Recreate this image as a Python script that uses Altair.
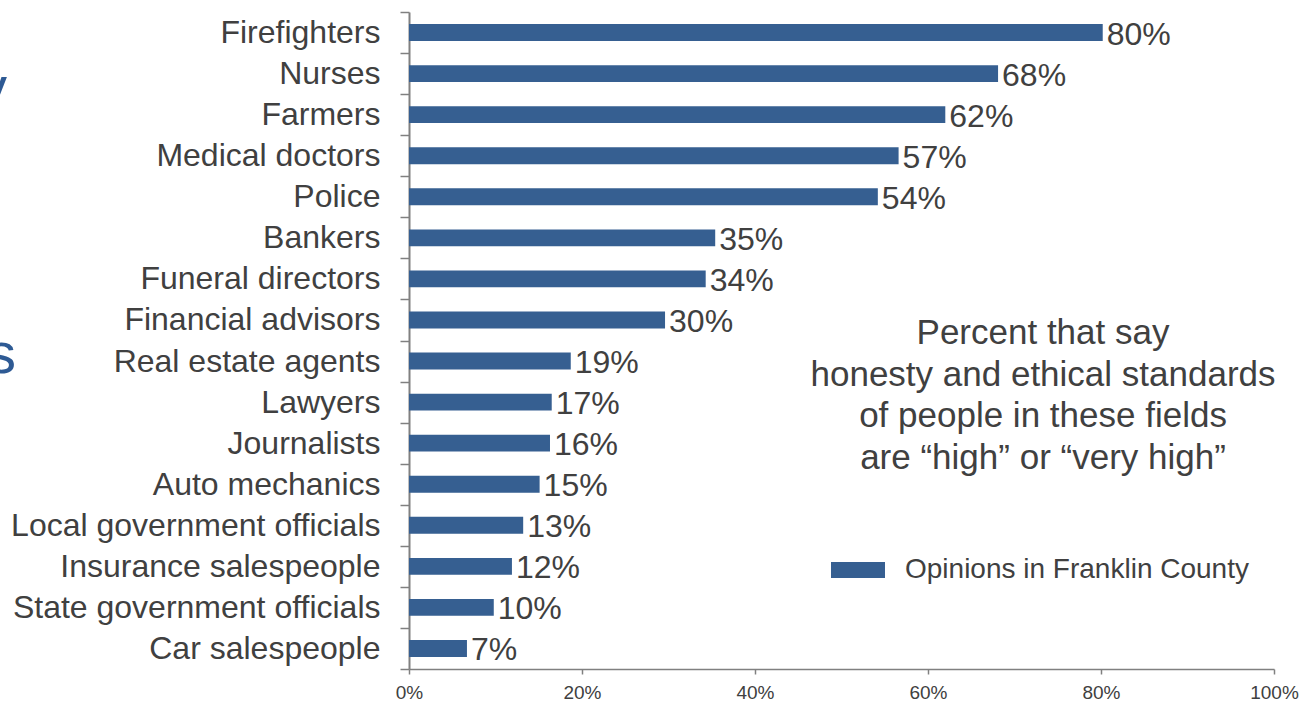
import altair as alt
import pandas as pd

categories = ["Firefighters", "Nurses", "Farmers", "Medical doctors", "Police", "Bankers",
              "Funeral directors", "Financial advisors", "Real estate agents", "Lawyers",
              "Journalists", "Auto mechanics", "Local government officials",
              "Insurance salespeople", "State government officials", "Car salespeople"]
values = [80.2, 68.1, 62.0, 56.6, 54.2, 35.4, 34.3, 29.6, 18.7, 16.5, 16.3, 15.1, 13.2, 11.9, 9.8, 6.7]
labels = ["80%", "68%", "62%", "57%", "54%", "35%", "34%", "30%", "19%", "17%", "16%", "15%",
          "13%", "12%", "10%", "7%"]
series_name = "Opinions in Franklin County"
annotation_lines = ["Percent that say", "honesty and ethical standards",
                    "of people in these fields", "are \u201chigh\u201d or \u201cvery high\u201d"]
x_ticks = [0, 20, 40, 60, 80, 100]
cut_letters = ["y", "s"]  # edges of slide-title text cut off at the left border

BAR = "#365F91"
TXT = "#404040"
AXIS = "#808080"
TITLE_BLUE = "#2E5A94"
FONT = "Liberation Sans"

df = pd.DataFrame({"cat": categories, "val": values, "lab": labels, "series": series_name})

y_enc = alt.Y("cat:N", sort=categories,
              scale=alt.Scale(paddingInner=0, paddingOuter=0),
              axis=alt.Axis(title=None, tickBand="extent", tickSize=9, tickColor=AXIS,
                            domainColor=AXIS, domainWidth=2, tickWidth=1.5,
                            labelFont=FONT, labelFontSize=32, labelColor=TXT,
                            labelPadding=20, grid=False, labelLimit=600))
x_scale = alt.Scale(domain=[0, 100])

bars = alt.Chart(df).mark_bar(color=BAR, height={"band": 0.41}).encode(
    x=alt.X("val:Q", scale=x_scale,
            axis=alt.Axis(title=None, values=x_ticks, labelExpr="datum.value + '%'",
                          tickSize=5, tickColor=AXIS, domainColor=AXIS, domainWidth=1.5,
                          tickWidth=1.5, labelFont=FONT, labelFontSize=19, labelColor=TXT,
                          labelPadding=9, labelFlush=False, grid=False)),
    y=y_enc,
    color=alt.Color("series:N", scale=alt.Scale(range=[BAR]),
                    legend=alt.Legend(title=None, orient="none", legendX=422, legendY=531,
                                      symbolType="M-1,-0.296L1,-0.296L1,0.296L-1,0.296Z",
                                      symbolSize=2916, symbolStrokeWidth=0, labelOffset=20,
                                      labelFont=FONT, labelFontSize=28, labelColor=TXT,
                                      padding=0, labelLimit=600)),
)

text = alt.Chart(df).mark_text(align="left", baseline="middle", dx=4, dy=2, font=FONT,
                               fontSize=32, color=TXT).encode(
    x=alt.X("val:Q", scale=x_scale),
    y=alt.Y("cat:N", sort=categories),
    text="lab:N",
)

annot = alt.Chart(pd.DataFrame({"a": [0]})).mark_text(
    text=annotation_lines, align="center", baseline="middle", lineHeight=41.5,
    font=FONT, fontSize=35, color=TXT
).encode(x=alt.value(634), y=alt.value(321))

cut_y = alt.Chart(pd.DataFrame({"a": [0]})).mark_text(
    text=cut_letters[0], align="right", baseline="alphabetic", font=FONT, fontSize=58,
    color=TITLE_BLUE
).encode(x=alt.value(-402), y=alt.value(95))

cut_s = alt.Chart(pd.DataFrame({"a": [0]})).mark_text(
    text=cut_letters[1], align="right", baseline="alphabetic", font=FONT, fontSize=58,
    color=TITLE_BLUE
).encode(x=alt.value(-393), y=alt.value(361))

chart = alt.layer(bars, text, annot, cut_y, cut_s).properties(
    width=865, height=657,
    autosize=alt.AutoSizeParams(type="none"),
    padding={"left": 409, "top": 12, "right": 29, "bottom": 35},
).configure_view(stroke=None)

chart.save("out.html", embed_options={"renderer": "svg", "actions": False})
